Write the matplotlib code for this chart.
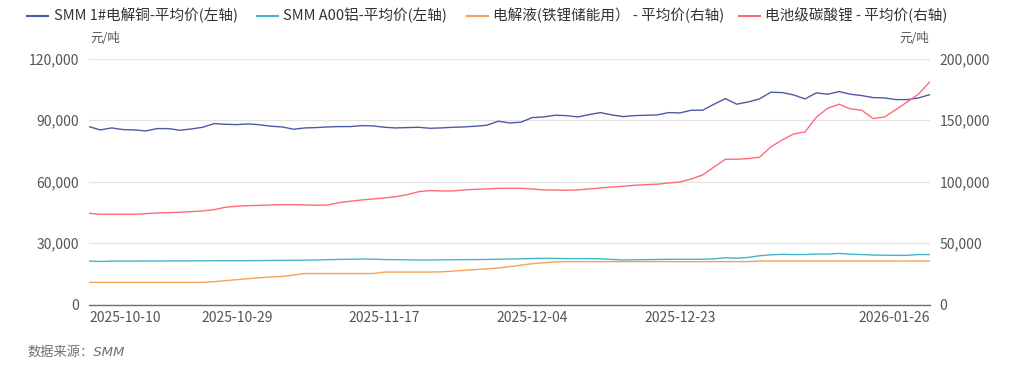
import matplotlib
matplotlib.use("Agg")
import matplotlib.pyplot as plt
from matplotlib.lines import Line2D
from matplotlib.ticker import FuncFormatter, MultipleLocator
import pandas as pd

plt.rcParams['font.family'] = ['Noto Sans CJK SC', 'DejaVu Sans']

# ---- categories (trading days) ----
dates = [d.strftime('%Y-%m-%d') for d in pd.bdate_range('2025-10-10', '2026-01-26')
         if d.strftime('%Y-%m-%d') not in ('2026-01-01', '2026-01-02')]
tick_labels = ['2025-10-10', '2025-10-29', '2025-11-17', '2025-12-04', '2025-12-23', '2026-01-26']

# ---- series (left axis) ----
copper = [86870, 85260, 86240, 85420, 85260, 84770, 85910, 85910, 85100, 85750,
          86560, 88350, 88020, 87860, 88190, 87800, 87060, 86730, 85600, 86240,
          86400, 86730, 86890, 86890, 87370, 87210, 86560, 86240, 86400, 86560,
          86070, 86240, 86560, 86730, 87060, 87540, 89500, 88680, 89020, 91280,
          91610, 92430, 92260, 91610, 92750, 93720, 92590, 91770, 92260, 92430,
          92590, 93720, 93570, 94890, 94890, 97820, 100560, 97820, 98940, 100410,
          103680, 103510, 102360, 100410, 103350, 102700, 103990, 102700, 102030, 101050,
          100900, 100070, 100070, 100900, 102520]
aluminium = [21200, 21000, 21200, 21200, 21200, 21250, 21250, 21300, 21300, 21300,
             21350, 21400, 21400, 21400, 21400, 21450, 21500, 21550, 21600, 21650,
             21700, 21900, 22000, 22100, 22200, 22100, 21950, 21900, 21800, 21750,
             21750, 21800, 21850, 21900, 21950, 22000, 22100, 22200, 22300, 22450,
             22550, 22500, 22400, 22400, 22400, 22350, 22000, 21750, 21850, 21900,
             22000, 22080, 22080, 22080, 22100, 22300, 22850, 22600, 23000, 23800,
             24250, 24500, 24400, 24400, 24650, 24650, 24950, 24550, 24400, 24150,
             24050, 24000, 24000, 24400, 24400]

# ---- series (right axis) ----
electrolyte = [18000, 18000, 18000, 18000, 18000, 18000, 18000, 18000, 18000, 18000,
               18000, 18600, 19400, 20200, 21000, 21800, 22400, 22800, 24000, 25200,
               25200, 25200, 25200, 25200, 25200, 25200, 26400, 26400, 26400, 26400,
               26400, 26600, 27200, 27800, 28400, 29000, 29700, 30800, 32000, 33200,
               34000, 34600, 34900, 34900, 34900, 34900, 34900, 34900, 34900, 34900,
               34900, 34900, 34900, 34900, 34900, 34900, 34900, 34900, 34900, 35400,
               35400, 35400, 35400, 35400, 35400, 35400, 35400, 35400, 35400, 35400,
               35400, 35400, 35400, 35400, 35400]
lithium = [74260, 73450, 73450, 73450, 73450, 73940, 74510, 74750, 75080, 75570,
           76140, 77200, 79150, 79970, 80450, 80700, 81020, 81270, 81270, 81020,
           80780, 81020, 82900, 84040, 85100, 85910, 86720, 87780, 89410, 91850,
           92700, 92420, 92420, 93240, 93790, 94050, 94590, 94590, 94590, 94050,
           93240, 93240, 92990, 93240, 94050, 94860, 95680, 96250, 97060, 97550,
           97880, 98940, 99750, 102190, 105450, 111960, 118230, 118230, 118770, 119860,
           128300, 133950, 138840, 140470, 152440, 159770, 163020, 159200, 158120, 151300,
           152680, 158640, 164900, 171410, 181430]

names = ['SMM 1#电解铜-平均价(左轴)', 'SMM A00铝-平均价(左轴)',
         '电解液(铁锂储能用） - 平均价(右轴)', '电池级碳酸锂 - 平均价(右轴)']
colors = ['#4e5aa3', '#45b4cb', '#f5a35a', '#ff6b7a']

W, H = 1024, 379
fig = plt.figure(figsize=(W / 100, H / 100), dpi=100)
L, R, T, B = 89, 930, 58.8, 304.5
ax = fig.add_axes([L / W, 1 - B / H, (R - L) / W, (B - T) / H])
ax2 = ax.twinx()

x = list(range(len(dates)))
lw = 1.0
ax.plot(x, copper, color=colors[0], lw=lw, zorder=3)
ax.plot(x, aluminium, color=colors[1], lw=lw, zorder=3)
ax2.plot(x, electrolyte, color=colors[2], lw=lw, zorder=3)
ax2.plot(x, lithium, color=colors[3], lw=lw, zorder=3)

ax.set_xlim(0, len(dates) - 1)
ax.set_ylim(0, 120000)
ax2.set_ylim(0, 200000)
ax.yaxis.set_major_locator(MultipleLocator(30000))
ax2.yaxis.set_major_locator(MultipleLocator(50000))
fmt = FuncFormatter(lambda v, p: f'{int(v):,}')
ax.yaxis.set_major_formatter(fmt)
ax2.yaxis.set_major_formatter(fmt)

ax.grid(axis='y', color='#e3e3e3', lw=0.9)
ax.set_axisbelow(True)
for a in (ax, ax2):
    for s in ('top', 'left', 'right'):
        a.spines[s].set_visible(False)
    a.spines['bottom'].set_visible(False)
ax.spines['bottom'].set_visible(True)
ax.spines['bottom'].set_color('#6e7079')
ax.spines['bottom'].set_linewidth(1.0)

tick_col = '#555555'
ax.tick_params(axis='y', length=0, pad=7, labelsize=10, labelcolor=tick_col)
ax2.tick_params(axis='y', length=0, pad=7, labelsize=10, labelcolor=tick_col)
pos = [dates.index(t) for t in tick_labels]
ax.set_xticks(pos)
ax.set_xticklabels(tick_labels)
ax.tick_params(axis='x', length=0, pad=5, labelsize=10, labelcolor=tick_col)
xt = ax.get_xticklabels()
xt[0].set_ha('left')
xt[-1].set_ha('right')

# units
fig.text(90 / W, 1 - 38 / H, '元/吨', fontsize=9, color=tick_col, ha='left', va='center')
fig.text(929 / W, 1 - 38 / H, '元/吨', fontsize=9, color=tick_col, ha='right', va='center')

# legend
leg_y = 1 - 15.5 / H
items = [(27, 54), (257, 283), (467, 493), (739, 765)]
for (lx, tx), name, c in zip(items, names, colors):
    fig.add_artist(Line2D([lx / W, (lx + 21) / W], [leg_y, leg_y], color=c, lw=1.5,
                          transform=fig.transFigure))
    fig.text(tx / W, leg_y, name, fontsize=10.5, color='#333333', ha='left', va='center')

# source
fig.text(27 / W, 1 - 352 / H, '数据来源：SMM', fontsize=9.5, color='#6e7079',
         ha='left', va='center', style='italic', family=['DejaVu Sans', 'Noto Sans CJK SC'])

fig.savefig('out.png', dpi=100, facecolor='white')
